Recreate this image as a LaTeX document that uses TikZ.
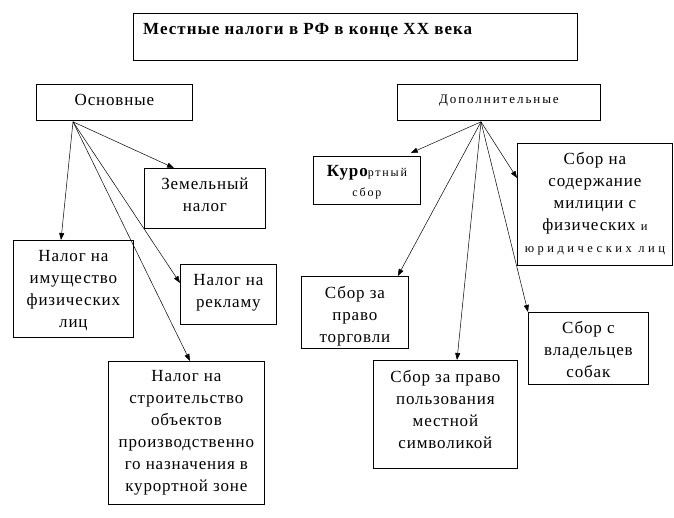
\documentclass[tikz,border=0pt]{standalone}
\usepackage{fontspec}
\setmainfont{Liberation Serif}
\newfontfamily\mainsp[LetterSpace=5]{Liberation Serif}
\newfontfamily\smallsp[LetterSpace=15]{Liberation Serif}
\newfontfamily\widesp[LetterSpace=28]{Liberation Serif}
\newfontfamily\titlesp[LetterSpace=6]{Liberation Serif}
\usetikzlibrary{arrows.meta,calc}
\begin{document}
\begin{tikzpicture}[x=1pt,y=-1pt,
  box/.style={draw, line width=0.8pt, inner sep=0pt, anchor=north west},
  txt/.style={align=center, inner sep=0pt, anchor=base, font=\mainsp\fontsize{17}{22}\selectfont},
  mtxt/.style={align=center, inner sep=0pt, anchor=north, font=\mainsp\fontsize{17}{22}\selectfont},
  smalltxt/.style={align=center, inner sep=0pt, anchor=base, font=\smallsp\fontsize{13}{16}\selectfont},
  arr/.style={line width=0.5pt, -{Triangle[length=7pt,width=5pt]}}
]
\fill[white] (0,0) rectangle (674,517);
\useasboundingbox (0,0) rectangle (674,517);

% boxes
\node[box, minimum width=444, minimum height=47] (title) at (133,13) {};
\node[box, minimum width=156, minimum height=36] (osn) at (36,84) {};
\node[box, minimum width=203, minimum height=36] (dop) at (397,84) {};
\node[box, minimum width=121, minimum height=60] (zem) at (144,168) {};
\node[box, minimum width=120, minimum height=97] (imu) at (13,240) {};
\node[box, minimum width=96, minimum height=60] (rek) at (180,264) {};
\node[box, minimum width=156, minimum height=143] (str) at (108,361) {};
\node[box, minimum width=107, minimum height=48] (kur) at (313,156) {};
\node[box, minimum width=155, minimum height=122] (sod) at (517,143) {};
\node[box, minimum width=107, minimum height=72] (tor) at (301,276) {};
\node[box, minimum width=144, minimum height=108] (pol) at (373,360) {};
\node[box, minimum width=120, minimum height=72] (vla) at (528,312) {};

% texts
\node[anchor=base west, inner sep=0pt, font=\titlesp\bfseries\fontsize{17}{20}\selectfont] (titleT) at ($(title.north west)+(10,21)$) {Местные налоги в РФ в конце XX века};
\node[txt] (osnT) at ($(osn.north)+(0,21)$) {Основные};
\node[smalltxt] (dopT) at ($(dop.north)+(0,19)$) {Дополнительные};
\node[mtxt] (zemT) at ($(zem.north)+(0,10)$) {Земельный\\налог};
\node[mtxt] (imuT) at ($(imu.north)+(0,10)$) {Налог на\\имущество\\физических\\лиц};
\node[mtxt] (rekT) at ($(rek.north)+(0,10)$) {Налог на\\рекламу};
\node[mtxt] (strT) at ($(str.north)+(0,9)$) {Налог на\\строительство\\объектов\\производственно\\го назначения в\\курортной зоне};
\node[mtxt] (kurT) at ($(kur.north)+(0,9.5)$) {{\bfseries Куро}{\smallsp\fontsize{12}{14}\selectfont ртный}\\[-2pt]{\smallsp\fontsize{12}{14}\selectfont сбор}};
\node[mtxt] (sodT) at ($(sod.north)+(0,9)$) {Сбор на\\содержание\\милиции с\\физических {\widesp\fontsize{12.5}{14}\selectfont и}\\{\widesp\fontsize{12.5}{14}\selectfont юридических лиц}};
\node[mtxt] (torT) at ($(tor.north)+(0,10)$) {Сбор за\\право\\торговли};
\node[mtxt] (polT) at ($(pol.north)+(0,10)$) {Сбор за право\\пользования\\местной\\символикой};
\node[mtxt] (vlaT) at ($(vla.north)+(0,9)$) {Сбор с\\владельцев\\собак};

% arrow origins
\coordinate (osnO) at ($(osn.south west)+(37,1)$);
\coordinate (dopO) at ($(dop.south west)+(84,1)$);

% arrows
\draw[arr] (osnO) -- ($(imu.north west)+(48,0)$);
\draw[arr] (osnO) -- ($(zem.north west)+(30,0)$);
\draw[arr] (osnO) -- ($(rek.north west)+(0,19)$);
\draw[arr] (osnO) -- ($(str.north west)+(82,0)$);
\draw[arr] (dopO) -- ($(kur.north east)+(-10,-3)$);
\draw[arr] (dopO) -- ($(sod.north west)+(0,35)$);
\draw[arr] (dopO) -- ($(tor.north east)+(-11,0)$);
\draw[arr] (dopO) -- ($(pol.north west)+(84,0)$);
\draw[arr] (dopO) -- (vla.north west);
\end{tikzpicture}
\end{document}
